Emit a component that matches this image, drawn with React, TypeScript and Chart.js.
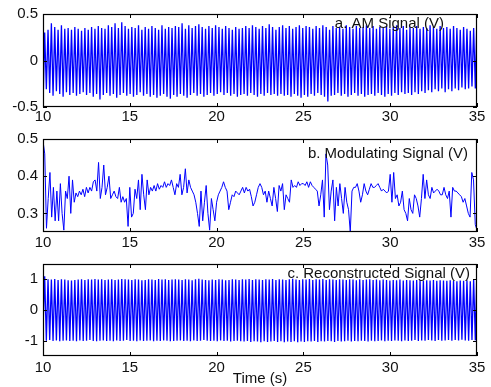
import React, { useEffect, useRef } from "react";
import { Chart, registerables } from "chart.js";

Chart.register(...registerables);

// ---------- DATA ----------
const xTicks = [10, 15, 20, 25, 30, 35];
const aTicks = [-0.5, 0, 0.5];
const bTicks = [0.3, 0.4, 0.5];
const cTicks = [-1, 0, 1];

const tStart = 10;
const tEnd = 35;

// a. AM signal: per-cycle peak and trough values (V)
const amPeaks = [
  0.30, 0.33, 0.40, 0.36, 0.33, 0.38, 0.34, 0.35, 0.33, 0.36,
  0.34, 0.32, 0.35, 0.33, 0.36, 0.34, 0.37, 0.35, 0.34, 0.38,
  0.36, 0.40, 0.35, 0.41, 0.37, 0.34, 0.36, 0.35, 0.38, 0.33,
  0.36, 0.34, 0.37, 0.35, 0.33, 0.38, 0.34, 0.36, 0.35, 0.37,
  0.36, 0.40, 0.34, 0.38, 0.35, 0.37, 0.39, 0.36, 0.34, 0.37,
  0.35, 0.38, 0.36, 0.34, 0.37, 0.35, 0.33, 0.36, 0.34, 0.35,
  0.37, 0.35, 0.38, 0.36, 0.34, 0.37, 0.35, 0.39, 0.36, 0.33,
  0.36, 0.38, 0.35, 0.37, 0.34, 0.36, 0.38, 0.35, 0.37, 0.36,
  0.34, 0.37, 0.35, 0.38, 0.36, 0.33, 0.37, 0.35, 0.36, 0.34,
  0.38, 0.36, 0.34, 0.37, 0.35, 0.36, 0.38, 0.35, 0.37, 0.34,
  0.36, 0.35, 0.37, 0.34, 0.36, 0.38, 0.35, 0.37, 0.33, 0.36,
  0.35, 0.37, 0.34, 0.36, 0.35, 0.38, 0.36, 0.34, 0.37, 0.35,
  0.36, 0.34, 0.37, 0.35, 0.33, 0.36, 0.34, 0.32, 0.35, 0.50,
];
const amTroughs = [
  -0.50, -0.31, -0.35, -0.38, -0.33, -0.36, -0.39, -0.34, -0.37, -0.35,
  -0.38, -0.36, -0.34, -0.37, -0.35, -0.39, -0.36, -0.42, -0.37, -0.35,
  -0.38, -0.36, -0.40, -0.37, -0.35, -0.38, -0.36, -0.39, -0.37, -0.34,
  -0.38, -0.36, -0.39, -0.37, -0.40, -0.38, -0.36, -0.39, -0.41, -0.37,
  -0.39, -0.36, -0.38, -0.40, -0.37, -0.35, -0.38, -0.36, -0.39, -0.37,
  -0.35, -0.38, -0.36, -0.34, -0.37, -0.35, -0.38, -0.36, -0.39, -0.37,
  -0.36, -0.38, -0.35, -0.37, -0.39, -0.36, -0.38, -0.35, -0.37, -0.36,
  -0.38, -0.36, -0.38, -0.37, -0.39, -0.36, -0.38, -0.40, -0.37, -0.39,
  -0.36, -0.38, -0.35, -0.37, -0.39, -0.44, -0.38, -0.37, -0.35, -0.38,
  -0.36, -0.39, -0.37, -0.35, -0.38, -0.36, -0.39, -0.37, -0.36, -0.38,
  -0.35, -0.37, -0.39, -0.36, -0.38, -0.35, -0.37, -0.34, -0.36, -0.35,
  -0.37, -0.34, -0.36, -0.33, -0.35, -0.32, -0.34, -0.31, -0.33, -0.30,
  -0.34, -0.31, -0.33, -0.30, -0.32, -0.29, -0.31, -0.30, -0.28, -0.30,
];

// b. Modulating signal, sampled every 0.1 s from 10 s to 35 s (V)
const modValues = [
  0.495, 0.46, 0.26, 0.34, 0.41, 0.29, 0.37, 0.28, 0.36, 0.28,
  0.38, 0.30, 0.255, 0.36, 0.34, 0.40, 0.30, 0.39, 0.33, 0.355,
  0.345, 0.36, 0.35, 0.365, 0.345, 0.37, 0.355, 0.37, 0.36, 0.385,
  0.39, 0.36, 0.437, 0.34, 0.37, 0.43, 0.35, 0.37, 0.40, 0.34,
  0.35, 0.36, 0.345, 0.34, 0.37, 0.33, 0.345, 0.33, 0.34, 0.265,
  0.37, 0.29, 0.30, 0.365, 0.34, 0.39, 0.31, 0.405, 0.35, 0.31,
  0.39, 0.35, 0.37, 0.36, 0.375, 0.36, 0.38, 0.365, 0.375, 0.37,
  0.385, 0.37, 0.38, 0.375, 0.39, 0.37, 0.35, 0.38, 0.37, 0.405,
  0.35, 0.37, 0.42, 0.355, 0.39, 0.37, 0.36, 0.35, 0.33, 0.30,
  0.265, 0.36, 0.28, 0.33, 0.375, 0.30, 0.255, 0.34, 0.31, 0.28,
  0.33, 0.35, 0.36, 0.37, 0.385, 0.37, 0.36, 0.31, 0.33, 0.35,
  0.345, 0.36, 0.355, 0.35, 0.36, 0.37, 0.355, 0.37, 0.36, 0.365,
  0.345, 0.32, 0.33, 0.35, 0.37, 0.38, 0.37, 0.35, 0.36, 0.33,
  0.36, 0.34, 0.32, 0.37, 0.34, 0.305, 0.375, 0.36, 0.38, 0.31,
  0.35, 0.34, 0.33, 0.39, 0.37, 0.375, 0.37, 0.385, 0.375, 0.38,
  0.38, 0.375, 0.385, 0.37, 0.385, 0.375, 0.37, 0.365, 0.36, 0.32,
  0.35, 0.39, 0.29, 0.46, 0.43, 0.31, 0.36, 0.39, 0.28, 0.37,
  0.32, 0.38, 0.34, 0.30, 0.37, 0.33, 0.31, 0.25, 0.36, 0.37,
  0.37, 0.38, 0.36, 0.33, 0.35, 0.38, 0.36, 0.35, 0.365, 0.38,
  0.37, 0.37, 0.375, 0.38, 0.37, 0.36, 0.365, 0.36, 0.355, 0.36,
  0.405, 0.33, 0.41, 0.34, 0.35, 0.32, 0.33, 0.36, 0.31, 0.30,
  0.28, 0.34, 0.31, 0.30, 0.35, 0.34, 0.32, 0.29, 0.34, 0.405,
  0.34, 0.39, 0.35, 0.34, 0.37, 0.355, 0.36, 0.365, 0.36, 0.35,
  0.35, 0.37, 0.35, 0.34, 0.36, 0.29, 0.37, 0.36, 0.36, 0.355,
  0.35, 0.345, 0.33, 0.34, 0.32, 0.30, 0.29, 0.41, 0.39, 0.27,
  0.255,
];

// c. Reconstructed signal: per-cycle peak and trough values (V)
const recPeaks = [
  1.10, 1.00, 0.99, 1.01, 0.98, 1.00, 0.99, 0.97, 0.96, 0.98,
  0.99, 1.00, 0.98, 1.00, 0.99, 1.01, 0.99, 1.00, 0.98, 0.99,
  1.00, 0.98, 0.99, 1.01, 1.00, 0.99, 0.98, 1.00, 0.99, 0.97,
  0.98, 1.00, 0.99, 0.98, 1.01, 0.99, 1.00, 0.98, 0.99, 1.00,
  0.99, 0.98, 1.00, 0.99, 0.97, 1.00, 1.02, 0.99, 0.98, 0.97,
  0.99, 0.98, 1.00, 0.99, 0.97, 0.98, 1.00, 0.99, 0.98, 1.00,
  0.99, 1.01, 0.98, 1.00, 0.99, 0.98, 1.00, 0.99, 1.01, 0.98,
  1.00, 0.99, 0.98, 1.00, 1.02, 0.99, 0.98, 1.00, 0.99, 1.01,
  0.98, 1.00, 0.99, 1.01, 0.98, 1.00, 0.99, 0.98, 1.00, 0.99,
  0.98, 1.00, 0.99, 0.97, 1.00, 0.98, 0.99, 1.00, 0.98, 0.99,
  0.97, 0.99, 0.98, 0.96, 0.98, 0.97, 0.99, 0.96, 0.98, 0.97,
  0.96, 0.98, 0.97, 0.95, 0.97, 0.96, 0.98, 0.95, 0.97, 0.96,
  0.95, 0.97, 0.96, 0.94, 0.96, 0.95, 0.97, 0.94, 1.00, 1.50,
];
const recTroughs = [
  -0.60, -1.00, -0.98, -1.01, -0.99, -1.02, -1.00, -0.99, -1.01, -1.00,
  -1.02, -0.99, -1.01, -1.00, -0.98, -1.01, -1.02, -1.00, -0.99, -1.01,
  -1.00, -1.02, -0.99, -1.01, -1.00, -0.98, -1.01, -1.00, -1.02, -0.99,
  -1.01, -1.00, -0.99, -1.02, -1.00, -1.01, -0.99, -1.00, -1.02, -1.01,
  -1.00, -0.99, -1.01, -1.00, -1.02, -0.99, -1.01, -1.00, -0.98, -1.00,
  -1.01, -1.00, -1.02, -0.99, -1.01, -1.00, -1.03, -1.01, -1.00, -1.02,
  -1.03, -1.01, -1.04, -1.02, -1.03, -1.05, -1.02, -1.04, -1.03, -1.01,
  -1.04, -1.02, -1.05, -1.03, -1.04, -1.02, -1.05, -1.03, -1.04, -1.02,
  -1.03, -1.01, -1.04, -1.02, -1.03, -1.01, -1.02, -1.04, -1.01, -1.03,
  -1.02, -1.00, -1.03, -1.01, -1.02, -1.00, -1.01, -1.03, -1.00, -1.02,
  -1.01, -0.99, -1.02, -1.00, -1.01, -0.99, -1.00, -1.02, -0.99, -1.01,
  -1.00, -0.98, -1.01, -0.99, -1.00, -0.98, -0.99, -1.01, -0.98, -1.00,
  -0.99, -0.98, -1.00, -0.98, -0.99, -0.97, -0.99, -1.00, -0.98, -0.99,
];

// ---------- helpers to build the library's tables ----------
function timeBase(n: number): number[] {
  const out: number[] = [];
  for (let i = 0; i < n; i++) out.push(tStart + ((tEnd - tStart) * i) / (n - 1));
  return out;
}
function interleave(troughs: number[], peaks: number[]): number[] {
  const out: number[] = [];
  for (let i = 0; i < peaks.length; i++) {
    out.push(troughs[i]);
    out.push(peaks[i]);
  }
  return out;
}
function toPoints(values: number[]) {
  const ts = timeBase(values.length);
  return values.map((v, i) => ({ x: ts[i], y: v }));
}

const FONT = "'Liberation Sans', Arial, Helvetica, sans-serif";

const framePlugin = {
  id: "frame",
  afterDatasetsDraw(chart: any, _args: any, opts: any) {
    const { ctx, chartArea: a, scales } = chart;
    const L = Math.round(a.left), R = Math.round(a.right);
    const T = Math.round(a.top), B = Math.round(a.bottom);
    ctx.save();
    ctx.strokeStyle = "#000";
    ctx.lineWidth = 1.2;
    ctx.strokeRect(L + 0.5, T + 0.5, R - L - 1, B - T - 1);
    const tl = 4;
    ctx.lineWidth = 1;
    ctx.beginPath();
    scales.x.ticks.forEach((t: any) => {
      const px = Math.round(scales.x.getPixelForValue(t.value)) + 0.5;
      ctx.moveTo(px, B); ctx.lineTo(px, B - tl);
      ctx.moveTo(px, T); ctx.lineTo(px, T + tl);
    });
    scales.y.ticks.forEach((t: any) => {
      const py = Math.round(scales.y.getPixelForValue(t.value)) + 0.5;
      ctx.moveTo(L, py); ctx.lineTo(L + tl, py);
      ctx.moveTo(R, py); ctx.lineTo(R - tl, py);
    });
    ctx.stroke();
    ctx.fillStyle = "#111";
    ctx.font = `15px ${FONT}`;
    if (opts.label) {
      ctx.textAlign = "right";
      ctx.textBaseline = "middle";
      ctx.fillText(opts.label, a.right - opts.labelRight, a.top + opts.labelTop);
    }
    if (opts.xTitle) {
      ctx.textAlign = "center";
      ctx.textBaseline = "middle";
      ctx.fillText(opts.xTitle, (a.left + a.right) / 2, a.bottom + opts.xTitleDy);
    }
    ctx.restore();
  },
};

type PanelProps = {
  top: number;
  height: number;
  values: number[];
  yMin: number;
  yMax: number;
  yTicks: number[];
  padTop: number;
  axisH: number;
  xPad: number;
  lineW: number;
  label: string;
  labelRight: number;
  labelTop: number;
  xTitle?: string;
  xTitleDy?: number;
};

function Panel(p: PanelProps) {
  const ref = useRef<HTMLCanvasElement>(null);
  useEffect(() => {
    if (!ref.current) return;
    const chart = new Chart(ref.current, {
      type: "line",
      data: {
        datasets: [
          {
            data: toPoints(p.values),
            borderColor: "#0000ff",
            borderWidth: p.lineW,
            pointRadius: 0,
            tension: 0,
            fill: false,
          },
        ],
      },
      options: {
        animation: false,
        responsive: false,
        devicePixelRatio: 1,
        layout: { padding: { top: p.padTop, right: 14, left: 0, bottom: 0 } },
        plugins: {
          legend: { display: false },
          tooltip: { enabled: false },
          frame: {
            label: p.label,
            labelRight: p.labelRight,
            labelTop: p.labelTop,
            xTitle: p.xTitle,
            xTitleDy: p.xTitleDy,
          },
        } as any,
        scales: {
          x: {
            type: "linear",
            min: tStart,
            max: tEnd,
            afterBuildTicks: (s: any) => {
              s.ticks = xTicks.map((v) => ({ value: v }));
            },
            afterFit: (s: any) => {
              s.height = p.axisH;
            },
            grid: { display: false, drawTicks: false },
            border: { display: false },
            ticks: {
              padding: p.xPad,
              color: "#111",
              font: { family: FONT, size: 15 },
              maxRotation: 0,
              autoSkip: false,
              callback: (v: any) => String(v),
            },
          },
          y: {
            type: "linear",
            min: p.yMin,
            max: p.yMax,
            afterBuildTicks: (s: any) => {
              s.ticks = p.yTicks.map((v) => ({ value: v }));
            },
            afterFit: (s: any) => {
              s.width = 43;
            },
            grid: { display: false, drawTicks: false },
            border: { display: false },
            ticks: {
              padding: 5,
              color: "#111",
              font: { family: FONT, size: 15 },
              autoSkip: false,
              callback: (v: any) => String(v),
            },
          },
        },
      },
      plugins: [framePlugin],
    });
    return () => chart.destroy();
  }, []);
  return (
    <canvas
      ref={ref}
      width={491}
      height={p.height}
      style={{ position: "absolute", left: 0, top: p.top, width: 491, height: p.height }}
    />
  );
}

export default function App() {
  return (
    <div
      style={{
        position: "fixed",
        left: 0,
        top: 0,
        width: 491,
        height: 387,
        background: "#fff",
        overflow: "hidden",
      }}
    >
      <Panel
        top={0}
        height={125}
        values={interleave(amTroughs, amPeaks)}
        yMin={-0.5}
        yMax={0.5}
        yTicks={aTicks}
        padTop={14}
        axisH={18}
        xPad={1}
        lineW={1.3}
        label="a. AM Signal (V)"
        labelRight={33}
        labelTop={10}
      />
      <Panel
        top={125}
        height={125}
        values={modValues}
        yMin={0.25}
        yMax={0.5}
        yTicks={bTicks}
        padTop={13}
        axisH={18}
        xPad={2}
        lineW={1}
        label="b. Modulating Signal (V)"
        labelRight={9}
        labelTop={15}
      />
      <Panel
        top={250}
        height={137}
        values={interleave(recTroughs, recPeaks)}
        yMin={-1.5}
        yMax={1.5}
        yTicks={cTicks}
        padTop={13}
        axisH={31}
        xPad={3}
        lineW={1.3}
        label="c. Reconstructed Signal (V)"
        labelRight={7}
        labelTop={10}
        xTitle="Time (s)"
        xTitleDy={23}
      />
    </div>
  );
}
